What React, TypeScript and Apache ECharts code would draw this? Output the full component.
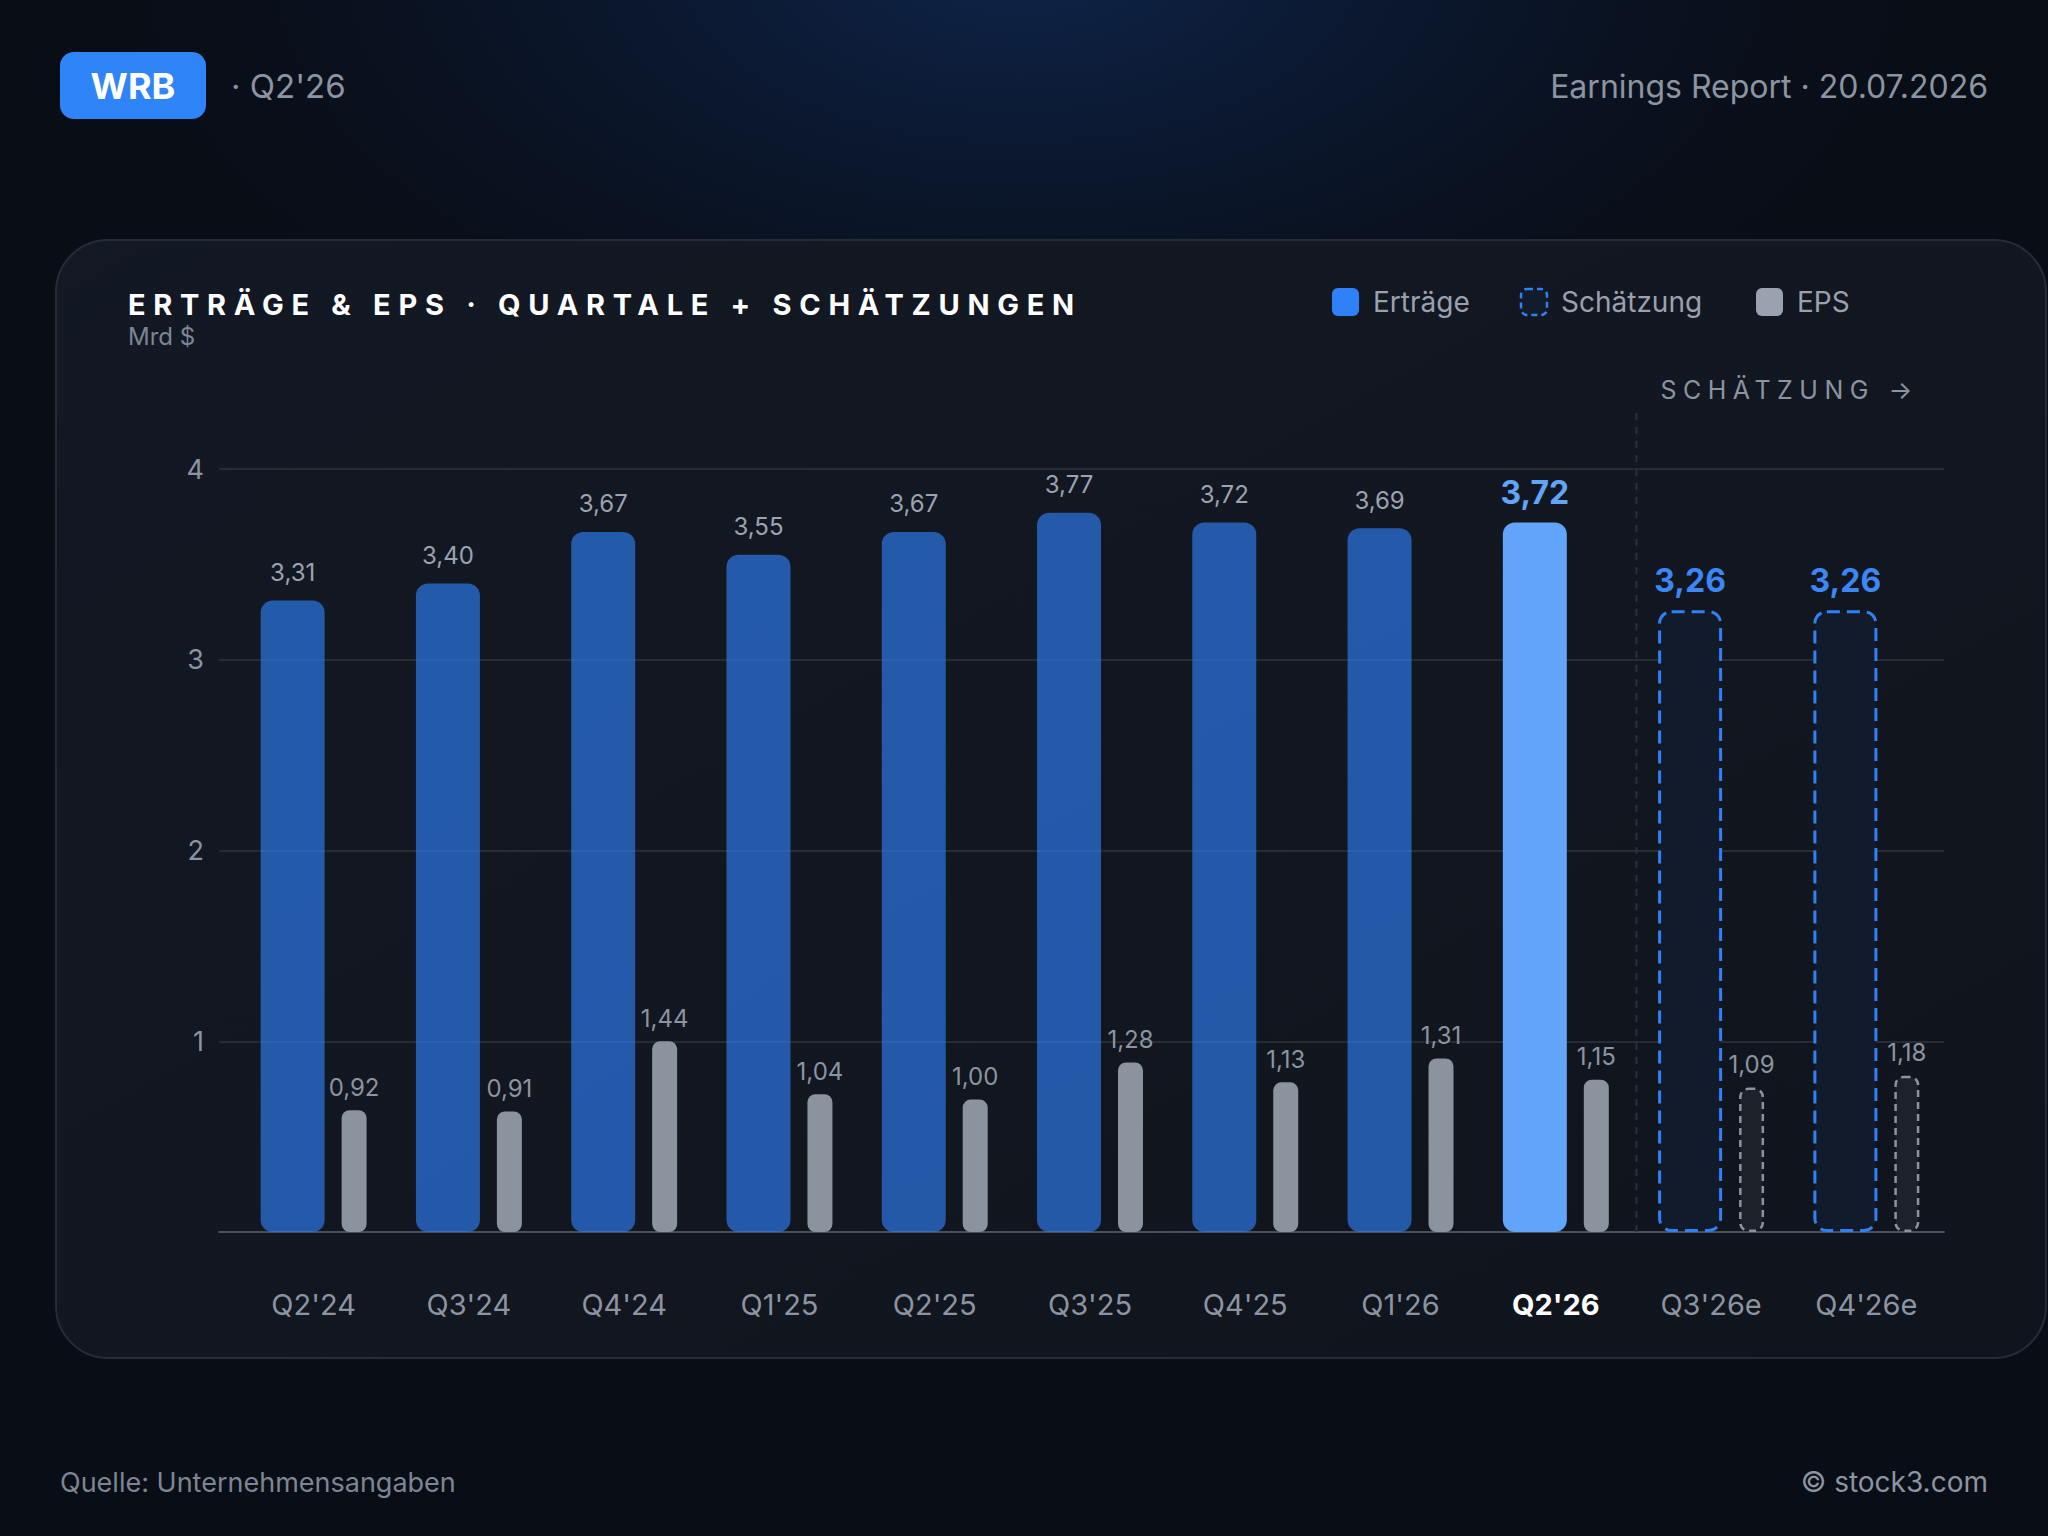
import { useEffect, useRef } from "react";
import * as echarts from "echarts";

// ---- data -------------------------------------------------------------
const quarters = ["Q2'24", "Q3'24", "Q4'24", "Q1'25", "Q2'25", "Q3'25", "Q4'25", "Q1'26", "Q2'26", "Q3'26e", "Q4'26e"];
const revenue = [3.31, 3.4, 3.67, 3.55, 3.67, 3.77, 3.72, 3.69, 3.72, 3.26, 3.26];
const eps = [0.92, 0.91, 1.44, 1.04, 1.0, 1.28, 1.13, 1.31, 1.15, 1.09, 1.18];
const isEstimate = [false, false, false, false, false, false, false, false, false, true, true];
const currentQuarter = "Q2'26";
const revenueAxis = { min: 0, max: 4, interval: 1 };
// EPS uses its own hidden scale: the best quarter (1,44) reaches the "1" gridline
const epsAxisMax = 5.76;

const TITLE = "ERTRÄGE & EPS · QUARTALE + SCHÄTZUNGEN";
const ESTIMATE_TAG = "SCHÄTZUNG →";

// ---- look -------------------------------------------------------------
const FONT = "Inter, 'Noto Sans', 'DejaVu Sans', sans-serif";
const W = 2048;
const H = 1536;
const PLOT_TOP = 469;
const PLOT_BOTTOM = 304; // distance from canvas bottom
const LINES_LEFT = 219;
const BARS_LEFT = 236;
const PLOT_RIGHT_X = 1944;

const BLUE = "#2f81f7";
const BLUE_BAR = "rgba(47,129,247,0.64)";
const BLUE_CURRENT = "#60a5fa";
const EPS_GRAY = "#8b939f";
const MUTED = "#8c94a1";

const fmt = (v: number) => v.toFixed(2).replace(".", ",");

function txt(id: string, text: string, x: number, y: number, size: number, fill: string, opts: any = {}) {
  const align = opts.align || "left";
  return {
    type: "text",
    id,
    x,
    y,
    z: 10,
    style: {
      text,
      fill,
      fontSize: size,
      fontFamily: FONT,
      fontWeight: opts.weight || "normal",
      textAlign: align,
      align,
      textVerticalAlign: "middle",
      verticalAlign: "middle",
    },
  };
}

function buildOption(divider: { x: number; yBase: number } | null) {
  const graphic: any[] = [
    // page background + glow
    { type: "rect", id: "bg", z: -10, shape: { x: 0, y: 0, width: W, height: H }, style: { fill: "#090d15" } },
    {
      type: "ellipse",
      id: "glow",
      z: -9,
      shape: { cx: 1020, cy: -40, rx: 1050, ry: 560 },
      style: {
        fill: new echarts.graphic.RadialGradient(0.5, 0.5, 0.5, [
          { offset: 0, color: "rgba(15,40,82,0.88)" },
          { offset: 0.5, color: "rgba(12,28,58,0.48)" },
          { offset: 1, color: "rgba(9,13,21,0)" },
        ]),
      },
    },
    // card
    {
      type: "rect",
      id: "card",
      z: -8,
      shape: { x: 56, y: 240, width: 1990, height: 1118, r: 52 },
      style: {
        fill: new echarts.graphic.LinearGradient(0, 0, 1, 1, [
          { offset: 0, color: "#131924" },
          { offset: 1, color: "#10141c" },
        ]),
        stroke: "#262c37",
        lineWidth: 2,
      },
    },
    // header
    { type: "rect", id: "badge", z: 5, shape: { x: 60, y: 52, width: 146, height: 67, r: 14 }, style: { fill: "#2f84f8" } },
    txt("badgeText", "WRB", 133, 86, 36, "#ffffff", { align: "center", weight: "bold" }),
    txt("period", "· Q2'26", 231, 86, 33, MUTED),
    txt("report", "Earnings Report · 20.07.2026", 1988, 86, 32, MUTED, { align: "right" }),
    // card title
    txt("title", TITLE, 128, 304, 29, "#ffffff", { weight: "bold" }),
    txt("unit", "Mrd $", 128, 336, 24, "#7d8594"),
    // legend
    { type: "rect", id: "lg1", z: 5, shape: { x: 1332, y: 288, width: 27, height: 28, r: 6 }, style: { fill: BLUE } },
    txt("lg1t", "Erträge", 1373, 302, 28, "#9aa1ad"),
    {
      type: "rect",
      id: "lg2",
      z: 5,
      shape: { x: 1521, y: 289, width: 26, height: 26, r: 6 },
      style: { fill: "#121c2d", stroke: BLUE, lineWidth: 2.5, lineDash: [6, 4] },
    },
    txt("lg2t", "Schätzung", 1561, 302, 28, "#9aa1ad"),
    { type: "rect", id: "lg3", z: 5, shape: { x: 1756, y: 288, width: 27, height: 28, r: 6 }, style: { fill: "#9aa2af" } },
    txt("lg3t", "EPS", 1797, 302, 28, "#9aa1ad"),
    // footer
    txt("source", "Quelle: Unternehmensangaben", 60, 1482, 27, "#7d8594"),
    txt("copy", "© stock3.com", 1988, 1482, 28, MUTED, { align: "right" }),
  ];

  if (divider) {
    graphic.push({
      type: "line",
      id: "divider",
      z: 1,
      shape: { x1: divider.x + 3, y1: 413, x2: divider.x + 3, y2: divider.yBase },
      style: { stroke: "#2b313b", lineWidth: 2, lineDash: [7, 7] },
    });
    graphic.push(txt("estTag", ESTIMATE_TAG, divider.x + 27, 390, 25, MUTED));
  }

  const revenueData = revenue.map((v, i) => {
    if (isEstimate[i]) {
      return {
        value: v,
        itemStyle: { color: "#121b2b", borderColor: BLUE, borderWidth: 3, borderType: [13, 7], borderRadius: 12 },
        label: { color: "#3b87f7", fontSize: 32, fontWeight: "bold", distance: 14 },
      };
    }
    if (quarters[i] === currentQuarter) {
      return {
        value: v,
        itemStyle: { color: BLUE_CURRENT },
        label: { color: BLUE_CURRENT, fontSize: 32, fontWeight: "bold", distance: 14 },
      };
    }
    return v;
  });

  const epsData = eps.map((v, i) =>
    isEstimate[i]
      ? {
          value: v,
          itemStyle: { color: "#1d2129", borderColor: EPS_GRAY, borderWidth: 2.5, borderType: [7, 5], borderRadius: 8 },
        }
      : v
  );

  const plotHeight = H - PLOT_TOP - PLOT_BOTTOM;

  return {
    animation: false,
    backgroundColor: "#090d15",
    textStyle: { fontFamily: FONT },
    graphic: { elements: graphic },
    grid: [
      { left: LINES_LEFT, top: PLOT_TOP, width: PLOT_RIGHT_X - LINES_LEFT, height: plotHeight, containLabel: false },
      { left: BARS_LEFT, top: PLOT_TOP, width: PLOT_RIGHT_X - BARS_LEFT, height: plotHeight, containLabel: false },
    ],
    xAxis: [
      {
        // carries only the baseline across the full gridline width
        type: "value",
        gridIndex: 0,
        min: 0,
        max: 1,
        axisLine: { show: true, lineStyle: { color: "#4a505b", width: 2 } },
        axisTick: { show: false },
        axisLabel: { show: false },
        splitLine: { show: false },
      },
      {
        type: "category",
        gridIndex: 1,
        data: quarters.map((q) =>
          q === currentQuarter ? { value: q, textStyle: { color: "#ffffff", fontWeight: "bold" } } : q
        ),
        axisLine: { show: false },
        axisTick: { show: false },
        axisLabel: { color: MUTED, fontSize: 29, fontFamily: FONT, margin: 58 },
      },
    ],
    yAxis: [
      {
        type: "value",
        gridIndex: 0,
        min: revenueAxis.min,
        max: revenueAxis.max,
        interval: revenueAxis.interval,
        axisLine: { show: false },
        axisTick: { show: false },
        axisLabel: {
          color: MUTED,
          fontSize: 27,
          fontFamily: FONT,
          margin: 15,
          formatter: (v: number) => (v === 0 ? "" : String(v)),
        },
        splitLine: { show: true, lineStyle: { color: "#262b34", width: 2 } },
      },
      { type: "value", gridIndex: 1, show: false, min: revenueAxis.min, max: revenueAxis.max },
      { type: "value", gridIndex: 1, show: false, min: 0, max: epsAxisMax },
    ],
    series: [
      {
        type: "line",
        xAxisIndex: 0,
        yAxisIndex: 0,
        data: [],
        silent: true,
      },
      {
        name: "Erträge",
        type: "bar",
        xAxisIndex: 1,
        yAxisIndex: 1,
        barWidth: 64,
        barGap: "26.5%",
        data: revenueData,
        itemStyle: { color: BLUE_BAR, borderRadius: 12 },
        label: {
          show: true,
          position: "top",
          distance: 16,
          color: "#9ca3af",
          fontSize: 24,
          fontFamily: FONT,
          formatter: (p: any) => fmt(Number(p.value)),
        },
      },
      {
        name: "EPS",
        type: "bar",
        xAxisIndex: 1,
        yAxisIndex: 2,
        barWidth: 25,
        barGap: "26.5%",
        data: epsData,
        itemStyle: { color: EPS_GRAY, borderRadius: 8 },
        label: {
          show: true,
          position: "top",
          distance: 11,
          color: MUTED,
          fontSize: 24,
          fontFamily: FONT,
          formatter: (p: any) => fmt(Number(p.value)),
        },
      },
    ],
  };
}

function spaceLetters(root: HTMLElement) {
  root.querySelectorAll("text").forEach((t) => {
    const s = t.textContent || "";
    if (s === TITLE) t.setAttribute("letter-spacing", "7.7");
    else if (s === ESTIMATE_TAG) t.setAttribute("letter-spacing", "6.5");
  });
}

export default function App() {
  const ref = useRef<HTMLDivElement>(null);

  useEffect(() => {
    const el = ref.current;
    if (!el) return;
    const chart = echarts.init(el, null, { renderer: "svg" });
    chart.setOption(buildOption(null));

    // the dashed divider sits between the last reported quarter and the first estimate
    const lastActual = isEstimate.indexOf(true) - 1;
    const xa = chart.convertToPixel({ xAxisIndex: 1 }, quarters[lastActual]) as number;
    const xb = chart.convertToPixel({ xAxisIndex: 1 }, quarters[lastActual + 1]) as number;
    const yBase = chart.convertToPixel({ yAxisIndex: 1 }, 0) as number;
    chart.setOption(buildOption({ x: (xa + xb) / 2, yBase }), true);
    spaceLetters(el);
    chart.on("finished", () => spaceLetters(el));

    return () => {
      chart.dispose();
    };
  }, []);

  return (
    <div
      ref={ref}
      style={{ position: "absolute", left: 0, top: 0, width: W, height: H }}
    />
  );
}
